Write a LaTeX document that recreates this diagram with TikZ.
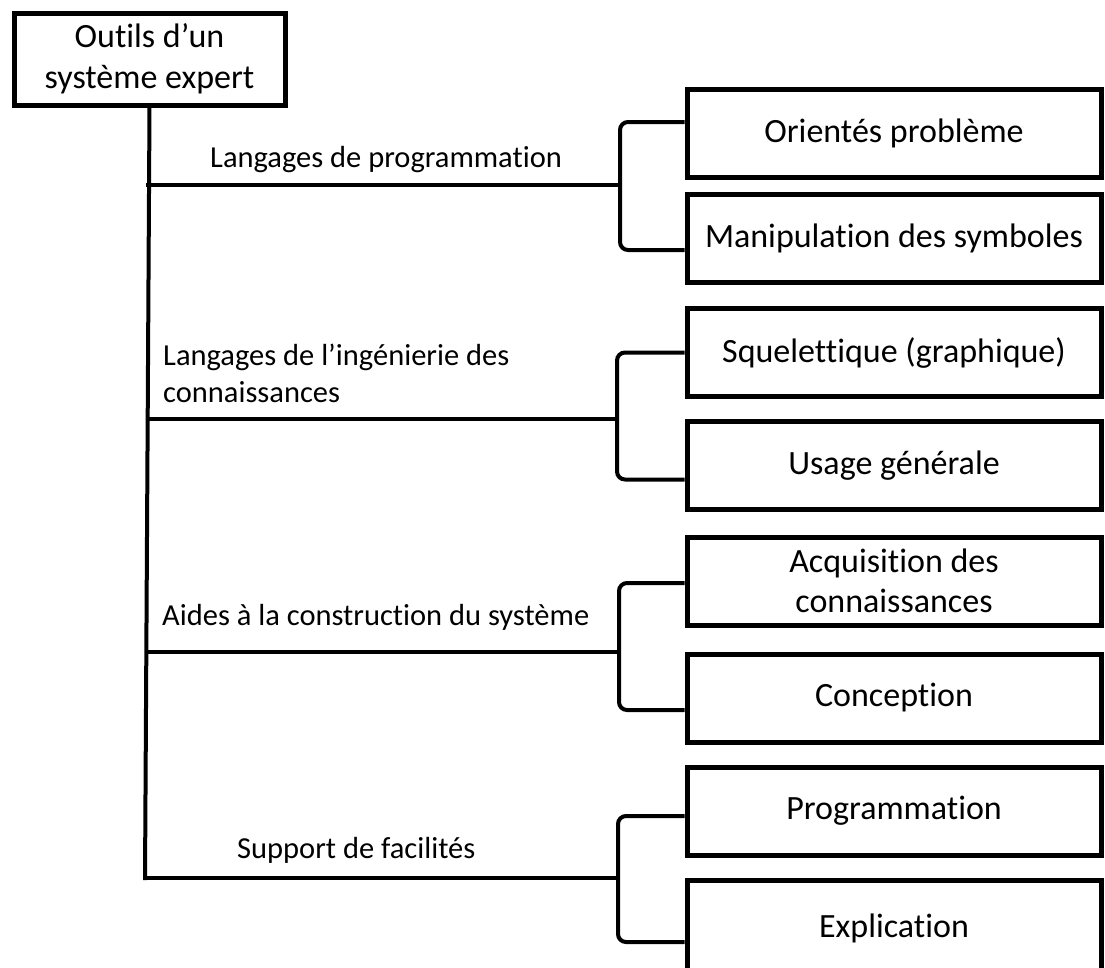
\documentclass[tikz,border=0pt]{standalone}
\usepackage{fontspec}
\setmainfont{Carlito}[Ligatures={NoCommon}]
\usetikzlibrary{calc}
\begin{document}
\begin{tikzpicture}[x=1pt,y=-1pt,
  rootbox/.style={draw,line width=5pt,minimum width=271pt,minimum height=92pt,inner sep=0pt,align=center,
    font=\fontsize{34}{41}\selectfont},
  leafbox/.style={draw,line width=5pt,minimum width=414pt,minimum height=88pt,inner sep=0pt,align=center,
    font=\fontsize{34}{40}\selectfont},
  lbl/.style={anchor=west,inner sep=0pt,align=left,font=\fontsize{30.5}{37}\selectfont},
  wire/.style={line width=4pt},
  brace/.style={line width=4pt,rounded corners=8pt}]
\useasboundingbox (0,0) rectangle (1105,967);

% root
\node[rootbox] (root) at (149.5,59) {Outils d’un\\système expert};

% leaf boxes (the last one runs past the lower edge)
\node[leafbox] (box1) at (894,133) {Orientés problème};
\node[leafbox] (box2) at (894,238) {Manipulation des symboles};
\node[leafbox] (box3) at (894,352.5) {Squelettique (graphique)};
\node[leafbox] (box4) at (894,465.5) {Usage générale};
\node[leafbox] (box5) at (894,581) {Acquisition des\\connaissances};
\node[leafbox] (box6) at (894,698) {Conception};
\node[leafbox] (box7) at (894,811) {Programmation};
\node[leafbox,minimum height=104pt] (box8) at (894,932) {\raisebox{12pt}{Explication}};

% branch labels
\node[lbl] (l1) at (210,160) {Langages de programmation};
\node[lbl] (l2) at (163,373) {Langages de l’ingénierie des\\connaissances};
\node[lbl] (l3) at (162,617) {Aides à la construction du système};
\node[lbl] (l4) at (237,850) {Support de facilités};

% trunk and branch points
\coordinate (tend) at (145,880);
\coordinate (s1) at (146,185);
\coordinate (s2) at (146,419);
\coordinate (s3) at (146,652);
\coordinate (s4) at (145,878);
\coordinate (j1) at (620,185);
\coordinate (j2) at (617,419);
\coordinate (j3) at (619,652);
\coordinate (j4) at (618,878);

\draw[wire] (root.south) -- (tend);
\draw[wire] (s1) -- (j1);
\draw[wire] (s2) -- (j2);
\draw[wire] (s3) -- (j3);
\draw[wire] (s4) -- (j4);

% brackets joining each branch to its two boxes
\draw[brace] ($(box1.west)+(0,-11)$) -| (j1) |- ($(box2.west)+(0,12)$);
\draw[brace] ($(box3.west)+(0,0)$) -| (j2) |- ($(box4.west)+(0,14)$);
\draw[brace] ($(box5.west)+(0,2)$) -| (j3) |- ($(box6.west)+(0,12)$);
\draw[brace] ($(box7.west)+(0,5)$) -| (j4) |- ($(box8.west)+(0,10)$);
\end{tikzpicture}
\end{document}
